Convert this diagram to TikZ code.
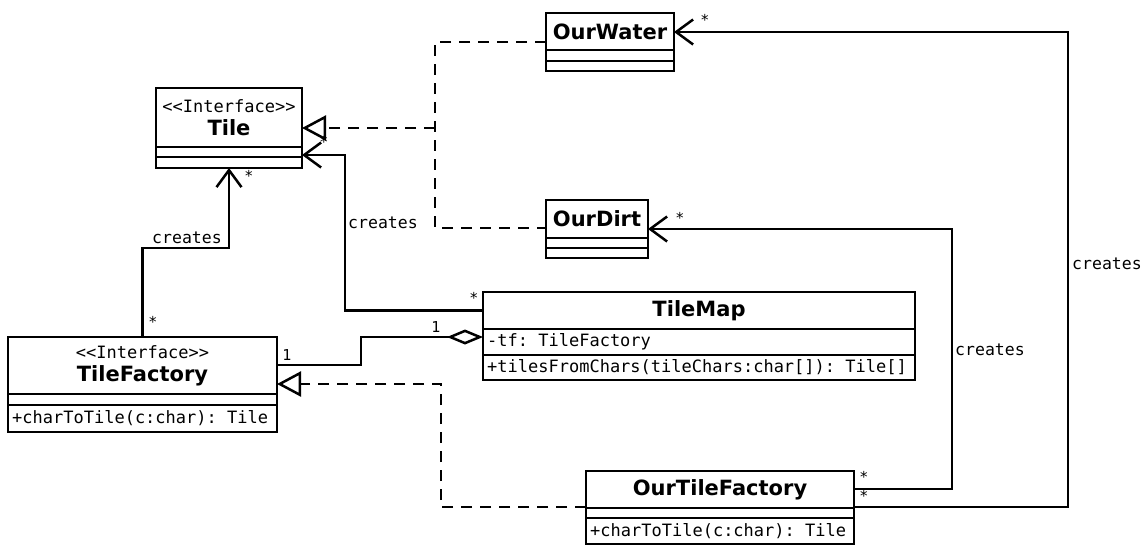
\documentclass[tikz,border=0pt]{standalone}
\usepackage{fontspec}
\setmainfont{DejaVu Sans}
\setmonofont{DejaVu Sans Mono}
\usepackage{tikz}
\usetikzlibrary{arrows.meta}
\usetikzlibrary{calc,positioning}

\tikzset{
  box/.style={draw, line width=2.5pt, inner sep=0pt, outer sep=0pt, anchor=north west},
  head/.style={box, align=center, font=\fontsize{17}{23}\selectfont},
  member/.style={inner sep=0pt, anchor=west, font=\ttfamily\fontsize{17}{20}\selectfont},
  mult/.style={inner sep=0pt, font=\ttfamily\fontsize{15}{18}\selectfont},
  lbl/.style={inner sep=0pt, font=\ttfamily\fontsize{16.5}{20}\selectfont},
  link/.style={line width=2.5pt},
  creates/.style={link, -{Straight Barb[length=17pt,width=25pt]}},
  realize/.style={link, dash pattern=on 11pt off 8pt},
  implements/.style={realize, -{Triangle[open,length=24pt,width=25pt]}},
  aggregate/.style={link, {Diamond[open,length=36pt,width=15pt]}-},
}
\newcommand{\stereo}[1]{{\ttfamily #1}}
\newcommand{\cname}[1]{{\bfseries\fontsize{21}{23}\selectfont #1}}

\begin{document}
\begin{tikzpicture}[x=1pt,y=-1pt]
\useasboundingbox (0,0) rectangle (1148,547);

% classes: header, attributes, operations
\node[head, minimum width=146pt, minimum height=59pt] (tileHead) at (156,88) {\stereo{<<Interface>>}\\\cname{Tile}};
\node[box, minimum width=146pt, minimum height=10pt] (tileAttr) at (tileHead.south west) {};
\node[box, minimum width=146pt, minimum height=11pt] (tileOps) at (tileAttr.south west) {};

\node[head, minimum width=128pt, minimum height=37pt] (ourWaterHead) at (546,13) {\cname{OurWater}};
\node[box, minimum width=128pt, minimum height=11pt] (ourWaterAttr) at (ourWaterHead.south west) {};
\node[box, minimum width=128pt, minimum height=10pt] (ourWaterOps) at (ourWaterAttr.south west) {};

\node[head, minimum width=102pt, minimum height=38pt] (ourDirtHead) at (546,200) {\cname{OurDirt}};
\node[box, minimum width=102pt, minimum height=10pt] (ourDirtAttr) at (ourDirtHead.south west) {};
\node[box, minimum width=102pt, minimum height=10pt] (ourDirtOps) at (ourDirtAttr.south west) {};

\node[head, minimum width=269pt, minimum height=57pt] (tileFactoryHead) at (8,337) {\stereo{<<Interface>>}\\\cname{TileFactory}};
\node[box, minimum width=269pt, minimum height=11pt] (tileFactoryAttr) at (tileFactoryHead.south west) {};
\node[box, minimum width=269pt, minimum height=27pt] (tileFactoryOps) at (tileFactoryAttr.south west) {};
\node[member] (tileFactoryOp) at ([xshift=4pt]tileFactoryOps.west) {+charToTile(c:char): Tile};

\node[head, minimum width=432pt, minimum height=37pt] (tileMapHead) at (483,292) {\cname{TileMap}};
\node[box, minimum width=432pt, minimum height=26pt] (tileMapAttr) at (tileMapHead.south west) {};
\node[box, minimum width=432pt, minimum height=25pt] (tileMapOps) at (tileMapAttr.south west) {};
\node[member] (tileMapField) at ([xshift=4pt]tileMapAttr.west) {-tf: TileFactory};
\node[member] (tileMapOp) at ([xshift=4pt]tileMapOps.west) {+tilesFromChars(tileChars:char[]): Tile[]};

\node[head, minimum width=268pt, minimum height=37pt] (ourTileFactoryHead) at (586,471) {\cname{OurTileFactory}};
\node[box, minimum width=268pt, minimum height=10pt] (ourTileFactoryAttr) at (ourTileFactoryHead.south west) {};
\node[box, minimum width=268pt, minimum height=26pt] (ourTileFactoryOps) at (ourTileFactoryAttr.south west) {};
\node[member] (ourTileFactoryOp) at ([xshift=4pt]ourTileFactoryOps.west) {+charToTile(c:char): Tile};

% bend points
\coordinate (bendA) at (229,248);
\coordinate (bendB) at (345,155);
\coordinate (aggA) at (361,337);
\coordinate (aggB) at (361,365);
\coordinate (busTop) at (435,42);
\coordinate (busMid) at (435,128);
\coordinate (busBot) at (435,228);
\coordinate (implA) at (441,507);
\coordinate (implB) at (441,384);
\coordinate (dirtBend) at (952,489);
\coordinate (dirtEnd) at (952,229);
\coordinate (waterBend) at (1068,507);
\coordinate (waterEnd) at (1068,32);

% creates
\draw[creates] (tileFactoryHead.north) |- (bendA) -- (tileOps.south);
\draw[creates] (tileMapHead.west) -| (bendB) -- (bendB -| tileHead.east);
\draw[creates] (dirtBend -| ourTileFactoryHead.east) -- (dirtBend) -- (dirtEnd) -- (dirtEnd -| ourDirtHead.east);
\draw[creates] (waterBend -| ourTileFactoryHead.east) -- (waterBend) -- (waterEnd) -- (waterEnd -| ourWaterHead.east);

% aggregation
\draw[aggregate] (aggA -| tileMapAttr.west) -- (aggA) -- (aggB) -- (aggB -| tileFactoryHead.east);

% realizations
\draw[realize] (busTop -| ourWaterHead.west) -- (busTop) -- (busBot) -- (busBot -| ourDirtHead.west);
\draw[implements] (busMid) -- (busMid -| tileHead.east);
\draw[implements] (implA -| ourTileFactoryHead.west) -- (implA) -- (implB) -- (implB -| tileFactoryHead.east);

% labels
\node[lbl] (crA) at (187,238) {creates};
\node[lbl] (crB) at (383,223) {creates};
\node[lbl] (crC) at (990,350) {creates};
\node[lbl] (crD) at (1107,264) {creates};

\node[mult] (mA) at (153,322) {*};
\node[mult] (mB) at (249,176) {*};
\node[mult] (mC) at (324,142) {*};
\node[mult] (mD) at (474,298) {*};
\node[mult] (mE) at (287,355) {1};
\node[mult] (mF) at (436,327) {1};
\node[mult] (mG) at (680,218) {*};
\node[mult] (mH) at (705,20) {*};
\node[mult] (mI) at (864,477) {*};
\node[mult] (mJ) at (864,496) {*};
\end{tikzpicture}
\end{document}
